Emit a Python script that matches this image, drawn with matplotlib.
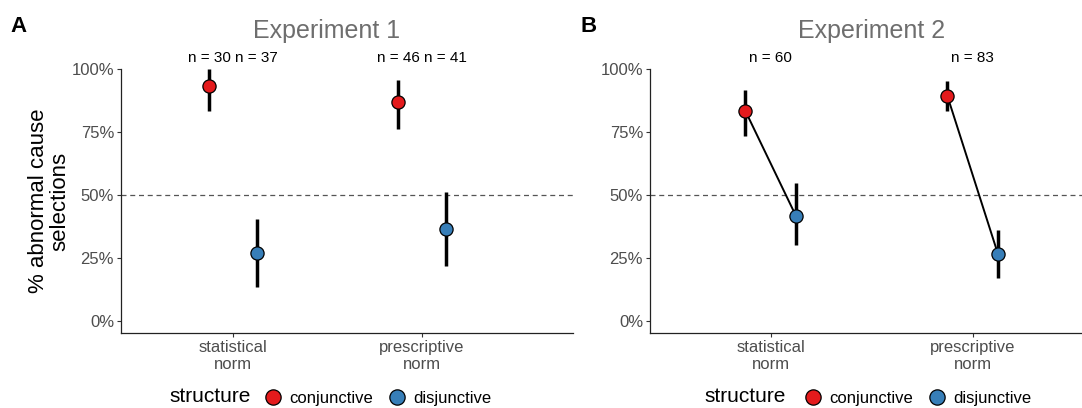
import matplotlib

matplotlib.use("Agg")

import matplotlib.pyplot as plt  # noqa: E402
from matplotlib.lines import Line2D  # noqa: E402
from matplotlib.ticker import PercentFormatter  # noqa: E402

plt.rcParams["font.family"] = ["Liberation Sans", "DejaVu Sans"]

# data
norms = ["statistical\nnorm", "prescriptive\nnorm"]
structures = ["conjunctive", "disjunctive"]
colors = {"conjunctive": "#E41A1C", "disjunctive": "#377EB8"}

exp1_mean = {"conjunctive": [0.934, 0.870], "disjunctive": [0.271, 0.366]}
exp1_lo = {"conjunctive": [0.834, 0.762], "disjunctive": [0.136, 0.219]}
exp1_hi = {"conjunctive": [1.000, 0.956], "disjunctive": [0.405, 0.511]}
exp1_n = {"conjunctive": ["n = 30", "n = 46"], "disjunctive": ["n = 37", "n = 41"]}

exp2_mean = {"conjunctive": [0.833, 0.892], "disjunctive": [0.417, 0.266]}
exp2_lo = {"conjunctive": [0.734, 0.832], "disjunctive": [0.302, 0.169]}
exp2_hi = {"conjunctive": [0.917, 0.952], "disjunctive": [0.549, 0.361]}
exp2_n = ["n = 60", "n = 83"]

dodge = {"conjunctive": -0.125, "disjunctive": 0.125}
yticks = [0, 0.25, 0.5, 0.75, 1.0]

W, H = 1082, 408
fig = plt.figure(figsize=(W / 100, H / 100), dpi=100)


def panel(rect, xlim):
    ax = fig.add_axes(rect)
    ax.set_xlim(*xlim)
    ax.set_ylim(-0.0476, 1.0)
    for s in ["top", "right"]:
        ax.spines[s].set_visible(False)
    for s in ["left", "bottom"]:
        ax.spines[s].set_color("#222222")
        ax.spines[s].set_linewidth(0.9)
    ax.set_xticks([1, 2])
    ax.set_xticklabels(norms, fontsize=12, color="#4d4d4d", linespacing=1.15)
    ax.set_yticks(yticks)
    ax.yaxis.set_major_formatter(PercentFormatter(1.0, decimals=0))
    ax.tick_params(axis="both", length=3, width=0.8, color="#333333",
                   labelsize=12, labelcolor="#4d4d4d", pad=2)
    ax.axhline(0.5, color="#555555", lw=0.9, ls=(0, (4, 3)), zorder=1)
    return ax


def draw(ax, mean, lo, hi, connect):
    xs = [1, 2]
    if connect:
        for i in range(2):
            ax.plot([xs[i] + dodge["conjunctive"], xs[i] + dodge["disjunctive"]],
                    [mean["conjunctive"][i], mean["disjunctive"][i]],
                    color="black", lw=1.4, zorder=2)
    for st in structures:
        px = [x + dodge[st] for x in xs]
        ax.vlines(px, lo[st], hi[st], color="black", lw=2.5, zorder=3)
        ax.plot(px, mean[st], "o", ms=9.5, mfc=colors[st], mec="black",
                mew=0.9, zorder=4, clip_on=False)


ax1 = panel([121 / W, 1 - 333 / H, 452 / W, 264 / H], (0.407, 2.80))
draw(ax1, exp1_mean, exp1_lo, exp1_hi, connect=False)
for st in structures:
    for i, lab in enumerate(exp1_n[st]):
        ax1.text(i + 1 + dodge[st], 1.045, lab, ha="center", va="center",
                 fontsize=11, color="black", clip_on=False)
ax1.set_ylabel("% abnormal cause\nselections", fontsize=16, color="black",
               linespacing=1.0, labelpad=1)

ax2 = panel([650 / W, 1 - 333 / H, 432 / W, 264 / H], (0.4025, 2.541))
draw(ax2, exp2_mean, exp2_lo, exp2_hi, connect=True)
for i, lab in enumerate(exp2_n):
    ax2.text(i + 1, 1.045, lab, ha="center", va="center",
             fontsize=11, color="black", clip_on=False)

# titles and panel letters
fig.text(327 / W, 1 - 31 / H, "Experiment 1", ha="center", va="center",
         fontsize=18, color="#6e6e6e")
fig.text(872 / W, 1 - 31 / H, "Experiment 2", ha="center", va="center",
         fontsize=18, color="#6e6e6e")
fig.text(10 / W, 1 - 26 / H, "A", ha="left", va="center", fontsize=16,
         fontweight="bold")
fig.text(580 / W, 1 - 26 / H, "B", ha="left", va="center", fontsize=16,
         fontweight="bold")

# legends under each panel
handles = [Line2D([], [], ls="none", marker="o", ms=11, mfc=colors[s],
                  mec="black", mew=0.9) for s in structures]
for title_x, leg_x in [(210, 378), (745, 918)]:
    fig.text(title_x / W, 1 - 397 / H, "structure", ha="center", va="center",
             fontsize=15)
    fig.legend(handles, structures, loc="center", ncol=2,
               bbox_to_anchor=(leg_x / W, 1 - 398 / H), frameon=False,
               fontsize=12, handlelength=1.0, handletextpad=0.5,
               columnspacing=0.9, borderpad=0)

fig.savefig("out.png", dpi=100)
plt.close(fig)
